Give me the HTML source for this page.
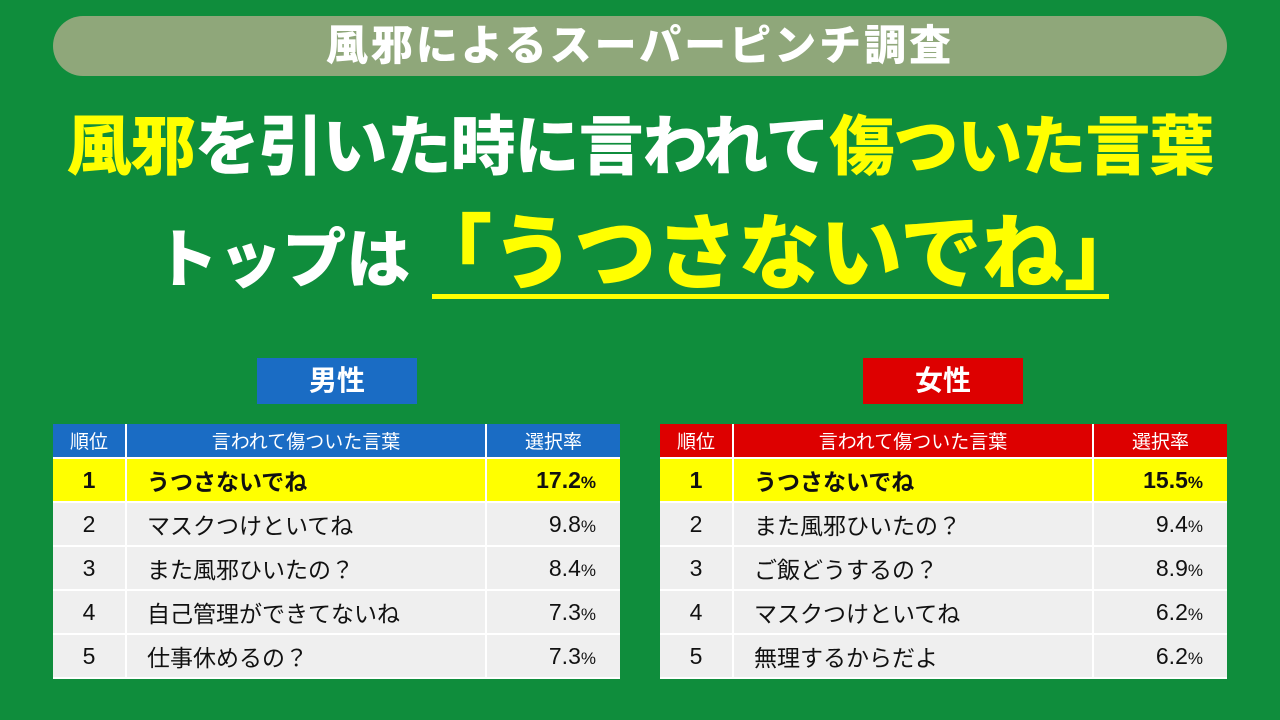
<!DOCTYPE html>
<html><head><meta charset="utf-8"><style>
*{margin:0;padding:0;box-sizing:border-box}
body{width:1280px;height:720px;background:#0f8d3c;font-family:"Liberation Sans","Noto Sans CJK JP",sans-serif;position:relative;overflow:hidden}
.banner{position:absolute;left:53px;top:16px;width:1174px;height:60px;border-radius:30px;background:#8fa77a;color:#fff;font-weight:900;font-size:42px;text-align:center;line-height:60px;letter-spacing:3px}
.t1{position:absolute;left:0;top:107px;width:1280px;text-align:center;font-weight:900;font-size:65px;color:#fff;line-height:80px;white-space:nowrap;letter-spacing:-1px}
.y{color:#ffff00}
.t2{position:absolute;left:10px;top:205px;width:1280px;text-align:center;font-weight:900;color:#fff;white-space:nowrap;line-height:100px}
.t2 .a{font-size:64px}
.t2 .b{font-size:82px;color:#ffff00}
.ul{position:absolute;left:432px;top:294px;width:677px;height:5px;background:#ffff00}
.lab{position:absolute;top:358px;width:160px;height:46px;color:#fff;font-size:28px;font-weight:700;text-align:center;line-height:46px}
table{position:absolute;top:424px;width:567px;border-collapse:collapse;font-size:23px}
td{border:2px solid #fff;border-top:none;border-bottom:2px solid #fff;height:44px;background:#efefef;color:#111}
tr:first-child td{height:34px;color:#fff;font-size:19px;text-align:center}
td:first-child{width:73px;text-align:center}
td:nth-child(2){width:360px;padding-left:20px}
td:nth-child(3){text-align:right;padding-right:24px}
tr.top td{background:#ffff00;font-weight:700}
td:first-child{border-left:none}td:last-child{border-right:none}
.pc{font-size:17px}
</style></head><body>
<div class="banner">風邪によるスーパーピンチ調査</div>
<div class="t1"><span class="y">風邪</span>を引いた時に言われて<span class="y">傷ついた言葉</span></div>
<div class="t2"><span class="a">トップは</span><span class="b">「うつさないでね」</span></div>
<div class="ul"></div>
<div class="lab" style="left:257px;background:#1a6cc4">男性</div>
<div class="lab" style="left:863px;background:#dd0000">女性</div>
<table style="left:53px">
<tr><td style="background:#1a6cc4">順位</td><td style="background:#1a6cc4;padding:0">言われて傷ついた言葉</td><td style="background:#1a6cc4;padding:0">選択率</td></tr>
<tr class="top"><td>1</td><td>うつさないでね</td><td>17.2<span class="pc">%</span></td></tr>
<tr><td>2</td><td>マスクつけといてね</td><td>9.8<span class="pc">%</span></td></tr>
<tr><td>3</td><td>また風邪ひいたの？</td><td>8.4<span class="pc">%</span></td></tr>
<tr><td>4</td><td>自己管理ができてないね</td><td>7.3<span class="pc">%</span></td></tr>
<tr><td>5</td><td>仕事休めるの？</td><td>7.3<span class="pc">%</span></td></tr>
</table>
<table style="left:660px">
<tr><td style="background:#dd0000">順位</td><td style="background:#dd0000;padding:0">言われて傷ついた言葉</td><td style="background:#dd0000;padding:0">選択率</td></tr>
<tr class="top"><td>1</td><td>うつさないでね</td><td>15.5<span class="pc">%</span></td></tr>
<tr><td>2</td><td>また風邪ひいたの？</td><td>9.4<span class="pc">%</span></td></tr>
<tr><td>3</td><td>ご飯どうするの？</td><td>8.9<span class="pc">%</span></td></tr>
<tr><td>4</td><td>マスクつけといてね</td><td>6.2<span class="pc">%</span></td></tr>
<tr><td>5</td><td>無理するからだよ</td><td>6.2<span class="pc">%</span></td></tr>
</table>
</body></html>
